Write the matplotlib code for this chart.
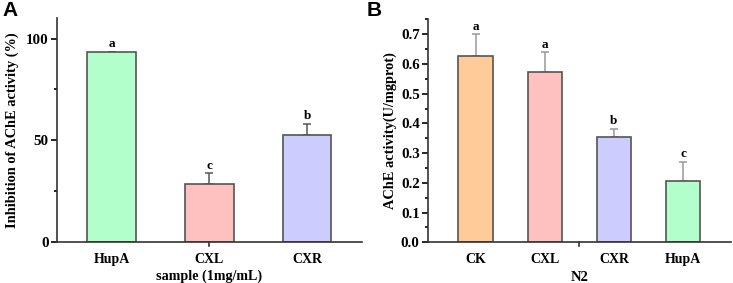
import matplotlib
matplotlib.use("Agg")
import matplotlib.pyplot as plt
from matplotlib.ticker import MultipleLocator

plt.rcParams["font.family"] = "Liberation Serif"
plt.rcParams["font.weight"] = "bold"

# panel A data
a_names = ["HupA", "CXL", "CXR"]
a_vals = [93.3, 28.8, 52.8]
a_errs = [0.3, 5.0, 5.3]
a_letters = ["a", "c", "b"]
a_colors = ["#B3FFCC", "#FFC0C0", "#CCCCFF"]

# panel B data
b_names = ["CK", "CXL", "CXR", "HupA"]
b_vals = [0.626, 0.574, 0.353, 0.207]
b_errs = [0.073, 0.065, 0.028, 0.063]
b_letters = ["a", "a", "b", "c"]
b_colors = ["#FFCC99", "#FFC0C0", "#CCCCFF", "#B3FFCC"]

fig = plt.figure(figsize=(7.33, 2.83), dpi=100)
axA = fig.add_axes([0.0778, 0.1438, 0.4157, 0.792])
axB = fig.add_axes([0.584, 0.1438, 0.4129, 0.788])


def draw(ax, names, vals, errs, letters, colors, ecol, off):
    x = list(range(len(names)))
    ax.bar(x, vals, width=0.5, color=colors, edgecolor="#555555", linewidth=1.2, zorder=2)
    ax.errorbar(x, vals, yerr=[[0] * len(vals), errs], fmt="none", ecolor=ecol,
                elinewidth=1.1, capsize=3, capthick=1.1, zorder=1)
    for xi, v, e, t in zip(x, vals, errs, letters):
        ax.text(xi, v + e + off, t, ha="center", va="bottom", fontsize=9.5, fontweight="bold")
    ax.set_xticks(x)
    ax.set_xticklabels(names, fontsize=10, fontweight="bold")
    ax.tick_params(axis="x", length=0, pad=7.5)
    ax.tick_params(axis="y", which="major", direction="out", length=4, width=1.2, labelsize=10.8, pad=2)
    ax.tick_params(axis="y", which="minor", direction="out", length=2, width=1.2)
    for lab in ax.get_yticklabels():
        lab.set_fontweight("bold")
    ax.spines["top"].set_visible(False)
    ax.spines["right"].set_visible(False)
    ax.spines["left"].set_color("#333333")
    ax.spines["bottom"].set_color("#333333")
    ax.spines["left"].set_linewidth(1.2)
    ax.spines["bottom"].set_linewidth(1.2)


draw(axA, a_names, a_vals, a_errs, a_letters, a_colors, "#555555", 0.8)
axA.set_xlim(-0.56, 2.56)
axA.set_ylim(0, 110)
axA.yaxis.set_major_locator(MultipleLocator(50))
axA.yaxis.set_minor_locator(MultipleLocator(25))
axA.set_ylabel("Inhibition of AChE activity (%)", fontsize=10.4, fontweight="bold", labelpad=5)
axA.set_xlabel("sample (1mg/mL)", fontsize=10.2, fontweight="bold", labelpad=3)
# centre tick on the x axis
axA.plot([1, 1], [0, -1.8], color="#333333", lw=1.2, clip_on=False)

draw(axB, b_names, b_vals, b_errs, b_letters, b_colors, "#999999", 0.006)
axB.set_xlim(-0.69, 3.69)
axB.set_ylim(0, 0.75)
axB.yaxis.set_major_locator(MultipleLocator(0.1))
axB.yaxis.set_minor_locator(MultipleLocator(0.05))
axB.set_yticks(axB.get_yticks())
axB.set_yticklabels([f"{v:.1f}" for v in axB.get_yticks()], fontweight="bold")
axB.set_ylim(0, 0.75)
axB.set_ylabel("AChE activity(U/mgprot)", fontsize=10.4, fontweight="bold", labelpad=3)
axB.set_xlabel("N2", fontsize=10.5, fontweight="bold", labelpad=4)
axB.plot([1.5, 1.5], [0, -0.012], color="#333333", lw=1.2, clip_on=False)

fig.text(0.004, 0.995, "A", family="Liberation Sans", fontsize=15, fontweight="bold", va="top")
fig.text(0.5, 0.995, "B", family="Liberation Sans", fontsize=15, fontweight="bold", va="top")

fig.savefig("out.png", dpi=100)
